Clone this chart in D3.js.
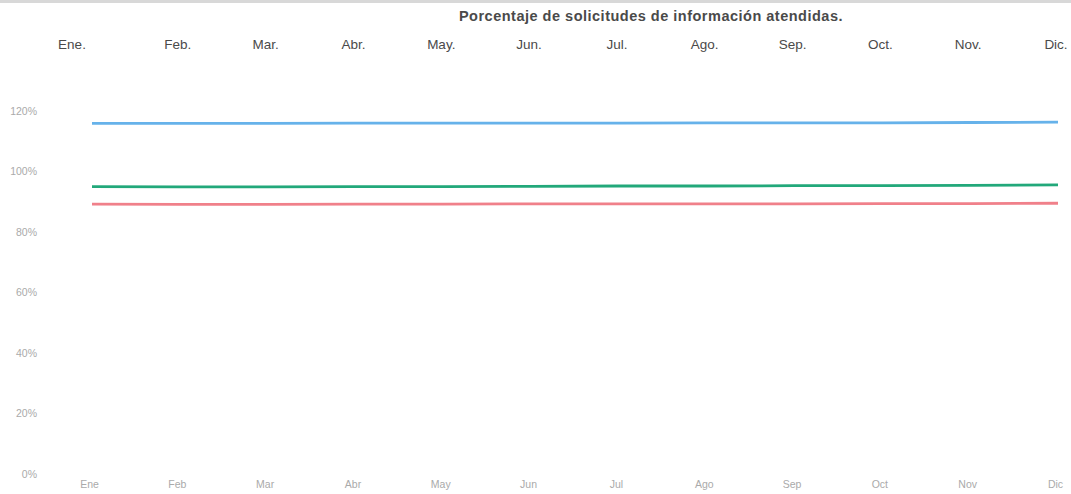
<!DOCTYPE html>
<html>
<head>
<meta charset="utf-8">
<script src="https://cdn.jsdelivr.net/npm/d3@7"></script>
<style>
  body { margin: 0; background: #fff; }
  text { font-family: "Liberation Sans", Arial, sans-serif; }
</style>
</head>
<body>
<div id="chart"></div>
<script>
// months, values in percent
var months = ["Ene", "Feb", "Mar", "Abr", "May", "Jun", "Jul", "Ago", "Sep", "Oct", "Nov", "Dic"];
var topLabels = ["Ene.", "Feb.", "Mar.", "Abr.", "May.", "Jun.", "Jul.", "Ago.", "Sep.", "Oct.", "Nov.", "Dic."];
var bottomLabels = ["Ene", "Feb", "Mar", "Abr", "May", "Jun", "Jul", "Ago", "Sep", "Oct", "Nov", "Dic"];
var yTicks = [0, 20, 40, 60, 80, 100, 120];

var serieAzul  = [115.9, 115.9, 115.9, 116.0, 116.0, 116.0, 116.0, 116.1, 116.1, 116.1, 116.2, 116.3];
var serieVerde = [95.0, 94.9, 94.9, 95.0, 95.0, 95.1, 95.2, 95.2, 95.3, 95.3, 95.4, 95.6];
var serieRoja  = [89.2, 89.1, 89.1, 89.2, 89.2, 89.3, 89.3, 89.3, 89.3, 89.4, 89.4, 89.5];

var title = "Porcentaje de solicitudes de información atendidas.";

var width = 1071, height = 494;

var svg = d3.select("#chart").append("svg")
    .attr("width", width)
    .attr("height", height);

// faint scan band at the very top
svg.append("rect")
    .attr("x", 0).attr("y", 0)
    .attr("width", width).attr("height", 3)
    .attr("fill", "#d8d8d8");

var x = d3.scalePoint()
    .domain(months)
    .range([92, 1058]);

// the header row in the picture is a bit irregular
var xTop = d3.scalePoint()
    .domain(months)
    .range([72, 1054]);

var y = d3.scaleLinear()
    .domain([0, 120])
    .range([474, 111]);

// title
svg.append("text")
    .attr("x", 651)
    .attr("y", 21)
    .attr("text-anchor", "middle")
    .attr("font-size", 14.5)
    .attr("font-weight", "bold")
    .attr("letter-spacing", "0.5px")
    .attr("fill", "#4a4a4a")
    .text(title);

// top month labels
svg.append("g").selectAll("text")
    .data(topLabels)
    .enter().append("text")
    .attr("x", function(d, i) { return i === 0 ? xTop(months[i]) : x(months[i]) - 2; })
    .attr("y", 49)
    .attr("text-anchor", "middle")
    .attr("font-size", 13.5)
    .attr("fill", "#4a4a4a")
    .text(function(d) { return d; });

// y axis (labels only)
var yAxis = d3.axisLeft(y)
    .tickValues(yTicks)
    .tickSize(0)
    .tickPadding(0)
    .tickFormat(function(d) { return d + "%"; });

var gy = svg.append("g")
    .attr("transform", "translate(37,0)")
    .call(yAxis);
gy.select(".domain").remove();
gy.selectAll("text")
    .attr("font-size", 10.5)
    .attr("font-family", "Liberation Sans, Arial, sans-serif")
    .attr("fill", "#aaa");

// x axis (bottom labels only)
var xAxis = d3.axisBottom(x)
    .tickSize(0)
    .tickPadding(0)
    .tickFormat(function(d, i) { return bottomLabels[i]; });

var gx = svg.append("g")
    .attr("transform", "translate(-3,481)")
    .call(xAxis);
gx.select(".domain").remove();
gx.selectAll("text")
    .attr("font-size", 10.5)
    .attr("font-family", "Liberation Sans, Arial, sans-serif")
    .attr("fill", "#aaa");

var line = d3.line()
    .x(function(d, i) { return x(months[i]); })
    .y(function(d) { return y(d); });

var series = [
    { values: serieAzul,  color: "#66b2ea" },
    { values: serieVerde, color: "#22a87a" },
    { values: serieRoja,  color: "#f0808a" }
];

svg.append("g").selectAll("path")
    .data(series)
    .enter().append("path")
    .attr("d", function(d) { return line(d.values); })
    .attr("fill", "none")
    .attr("stroke", function(d) { return d.color; })
    .attr("stroke-width", 2.8);
</script>
</body>
</html>
